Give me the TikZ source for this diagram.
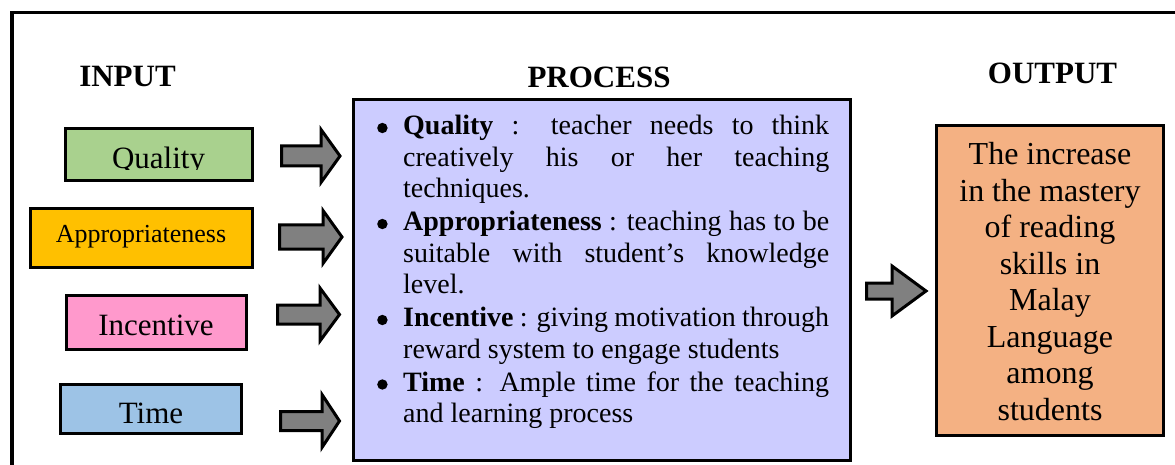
\documentclass[tikz,border=0pt]{standalone}
\usepackage{fontspec}
\setmainfont{Liberation Serif}
\definecolor{qgreen}{HTML}{A9D18E}
\definecolor{aorange}{HTML}{FFC000}
\definecolor{ipink}{HTML}{FF99CC}
\definecolor{tblue}{HTML}{9DC3E6}
\definecolor{plav}{HTML}{CCCCFF}
\definecolor{osalmon}{HTML}{F4B183}
\definecolor{agray}{HTML}{808080}
\newcommand\bul{\tikz[baseline=0pt]\fill[black] (0pt,7pt) circle (5.2pt);}
\newcommand\blkarrow[6]{%
  \draw[barrow] (#1,{#4-#5}) -- (#2,{#4-#5}) -- (#2,{#4-#6}) -- (#3,#4)
    -- (#2,{#4+#6}) -- (#2,{#4+#5}) -- (#1,{#4+#5}) -- cycle;}
\begin{document}
\begin{tikzpicture}[x=1pt,y=-1pt,
  box/.style={draw=black, line width=3pt, inner sep=0pt},
  title/.style={font=\fontsize{31}{37}\selectfont\bfseries, inner sep=0pt, anchor=base},
  intext/.style={font=\fontsize{31}{37}\selectfont, inner sep=0pt, anchor=base},
  barrow/.style={draw=black, fill=agray, line width=3pt, line join=miter}]
\useasboundingbox (0,0) rectangle (1175,465);
% outer frame
\draw[line width=3.5pt] (12,470) -- (12,12.5) -- (1180,12.5);
% titles
\node[title] (tin) at (127.5,87) {INPUT};
\node[title] (tpr) at (599,88) {PROCESS};
\node[title] (tout) at (1052.5,84) {OUTPUT};
% input boxes
\node[box, fill=qgreen, minimum width=187pt, minimum height=52pt] (q) at (159,154.5) {};
\begin{scope}
  \clip (60,120) rectangle (260,169.6);
  \node[intext] (qt) at (158.5,169) {Quality};
\end{scope}
\node[box, fill=aorange, minimum width=222pt, minimum height=59pt] (a) at (141.5,238) {};
\node[intext, font=\fontsize{26}{31}\selectfont] (at) at (141,243) {Appropriateness};
\node[box, fill=ipink, minimum width=180pt, minimum height=54pt] (i) at (156.5,322.5) {};
\node[intext] (it) at (156,335) {Incentive};
\node[box, fill=tblue, minimum width=181pt, minimum height=49pt] (t) at (151,409) {};
\node[intext] (tt) at (151,423) {Time};
% process box
\node[box, fill=plav, minimum width=497pt, minimum height=361pt] (p) at (602,280) {};
\node[anchor=base west, inner sep=0pt, font=\fontsize{28}{31.5}\selectfont] (pt) at (377,135)
{\parbox[t]{452pt}{\setlength{\parskip}{1.5pt}\setlength{\parindent}{0pt}%
\hyphenpenalty=10000 \exhyphenpenalty=10000
\hangindent=26pt\hangafter=1\makebox[26pt][l]{\bul}\textbf{Quality} : teacher needs to think\linebreak creatively his or her teaching\linebreak techniques.\par
\hangindent=26pt\hangafter=1\makebox[26pt][l]{\bul}\textbf{Appropriateness} : teaching has to be\linebreak suitable with student’s knowledge\linebreak level.\par
\hangindent=26pt\hangafter=1\makebox[26pt][l]{\bul}\textbf{Incentive} : giving motivation through\linebreak reward system to engage students\par
\hangindent=26pt\hangafter=1\makebox[26pt][l]{\bul}\textbf{Time} : Ample time for the teaching\linebreak and learning process\par}};
% output box
\node[box, fill=osalmon, minimum width=227pt, minimum height=310pt] (o) at (1050,280.5) {};
\node[anchor=base, inner sep=0pt, font=\fontsize{32}{36.5}\selectfont] (ot) at (1050,165)
{\parbox[t]{225pt}{\centering The increase\\ in the mastery\\ of reading\\ skills in\\ Malay\\ Language\\ among\\ students}};
% block arrows
\blkarrow{281.5}{321}{340}{156}{10}{26.5}
\blkarrow{279.5}{323}{342}{237}{12}{26.5}
\blkarrow{277.5}{320}{339.5}{314.5}{9.5}{26.5}
\blkarrow{280.5}{322}{339.5}{421}{9.5}{26.5}
\blkarrow{866.5}{892}{926}{291}{8}{25}
\end{tikzpicture}
\end{document}
